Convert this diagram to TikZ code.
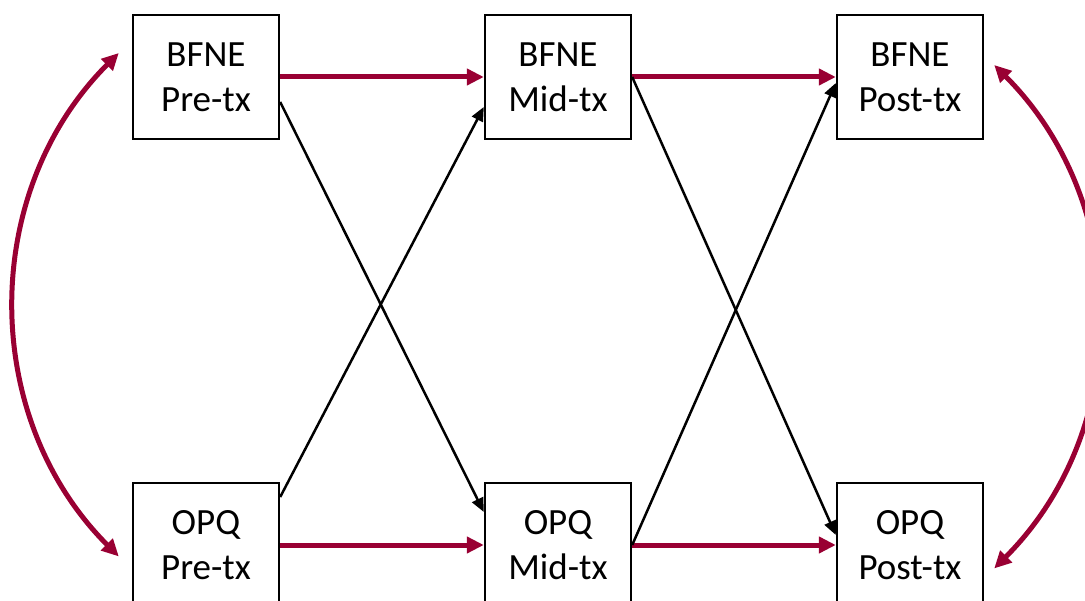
\documentclass[tikz,border=0pt]{standalone}
\usepackage{fontspec}
\setmainfont{Carlito}
\usetikzlibrary{arrows.meta}
\definecolor{wine}{RGB}{153,0,51}
\begin{document}
\begin{tikzpicture}[x=1pt,y=-1pt,
  box/.style={draw=black,line width=2.4pt,minimum width=146pt,minimum height=124pt,inner sep=0pt,align=center,font=\fontsize{37}{45}\selectfont},
  redarrow/.style={draw=wine,line width=5pt,-{Triangle[length=17pt,width=16pt]}},
  redboth/.style={draw=wine,line width=5pt,{Triangle[length=17pt,width=16pt]}-{Triangle[length=17pt,width=16pt]}},
  blackarrow/.style={draw=black,line width=2.5pt,-{Triangle[length=14pt,width=12pt]}}]
\useasboundingbox (0,0) rectangle (1085,601);
\node[box] (a) at (206,77) {BFNE\\Pre-tx};
\node[box] (b) at (558,77) {BFNE\\Mid-tx};
\node[box] (c) at (910,77) {BFNE\\Post-tx};
\node[box] (d) at (206,545) {OPQ\\Pre-tx};
\node[box] (e) at (558,545) {OPQ\\Mid-tx};
\node[box] (f) at (910,545) {OPQ\\Post-tx};
% red horizontals
\draw[redarrow] (a.east) -- (b.west);
\draw[redarrow] (b.east) -- (c.west);
\draw[redarrow] (d.east) -- (e.west);
\draw[redarrow] (e.east) -- (f.west);
% black diagonals
\draw[blackarrow] ([yshift=-25pt]a.east) -- ([yshift=33pt]e.west);
\draw[blackarrow] ([yshift=48pt]d.east) -- ([yshift=-30pt]b.west);
\draw[blackarrow] (b.east) -- ([yshift=10pt]f.west);
\draw[blackarrow] (e.east) -- ([yshift=-6pt]c.west);
% curved double arrows (circular arcs)
\coordinate (lt) at ([xshift=-13pt,yshift=24pt]a.west);
\coordinate (rt) at ([xshift=10pt,yshift=12pt]c.east);
\draw[redboth] (lt) arc[start angle=135,end angle=225,radius=356pt];
\draw[redboth] (rt) arc[start angle=45,end angle=-45,radius=356pt];
\end{tikzpicture}
\end{document}
